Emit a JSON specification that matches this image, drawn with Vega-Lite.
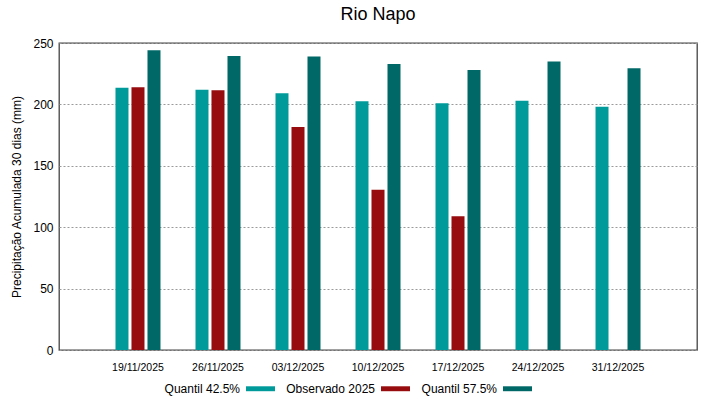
{
  "$schema": "https://vega.github.io/schema/vega-lite/v6.json",
  "width": 638,
  "height": 307,
  "autosize": "none",
  "padding": {"left": 59, "top": 43, "right": 22, "bottom": 49},
  "background": "white",
  "config": {
    "font": "Liberation Sans",
    "view": {"stroke": "#444444", "strokeWidth": 1.3}
  },
  "title": {
    "text": "Rio Napo",
    "fontSize": 18,
    "fontWeight": "normal",
    "font": "Liberation Sans",
    "color": "#000000",
    "anchor": "middle",
    "offset": 13
  },
  "data": {
    "values": [
      {"date": "19/11/2025", "series": "Quantil 42.5%", "value": 213.5},
      {"date": "19/11/2025", "series": "Observado 2025", "value": 214},
      {"date": "19/11/2025", "series": "Quantil 57.5%", "value": 244},
      {"date": "26/11/2025", "series": "Quantil 42.5%", "value": 212},
      {"date": "26/11/2025", "series": "Observado 2025", "value": 211.5},
      {"date": "26/11/2025", "series": "Quantil 57.5%", "value": 239.5},
      {"date": "03/12/2025", "series": "Quantil 42.5%", "value": 209},
      {"date": "03/12/2025", "series": "Observado 2025", "value": 181.5},
      {"date": "03/12/2025", "series": "Quantil 57.5%", "value": 239},
      {"date": "10/12/2025", "series": "Quantil 42.5%", "value": 202.5},
      {"date": "10/12/2025", "series": "Observado 2025", "value": 130.5},
      {"date": "10/12/2025", "series": "Quantil 57.5%", "value": 233},
      {"date": "17/12/2025", "series": "Quantil 42.5%", "value": 201},
      {"date": "17/12/2025", "series": "Observado 2025", "value": 109},
      {"date": "17/12/2025", "series": "Quantil 57.5%", "value": 228},
      {"date": "24/12/2025", "series": "Quantil 42.5%", "value": 203},
      {"date": "24/12/2025", "series": "Quantil 57.5%", "value": 235},
      {"date": "31/12/2025", "series": "Quantil 42.5%", "value": 198},
      {"date": "31/12/2025", "series": "Quantil 57.5%", "value": 229.5}
    ]
  },
  "mark": {"type": "bar"},
  "encoding": {
    "x": {
      "field": "date",
      "type": "ordinal",
      "sort": null,
      "scale": {"paddingInner": 0.4375, "paddingOuter": 0.706},
      "axis": {
        "title": null,
        "labelAngle": 0,
        "labelFontSize": 10.5,
        "labelColor": "#000000",
        "domain": false,
        "ticks": false,
        "labelPadding": 12
      }
    },
    "xOffset": {
      "field": "series",
      "type": "nominal",
      "scale": {
        "domain": ["Quantil 42.5%", "Observado 2025", "Quantil 57.5%"],
        "paddingInner": 0.1875,
        "paddingOuter": 0
      }
    },
    "y": {
      "field": "value",
      "type": "quantitative",
      "scale": {"domain": [0, 250], "nice": false},
      "axis": {
        "title": "Precipitação Acumulada 30 dias (mm)",
        "titleFontSize": 12,
        "titleFontWeight": "normal",
        "titleColor": "#000000",
        "titlePadding": 9,
        "values": [0, 50, 100, 150, 200, 250],
        "labelFontSize": 12,
        "labelColor": "#000000",
        "labelPadding": 6,
        "domain": false,
        "ticks": false,
        "grid": true,
        "gridDash": [2, 2],
        "gridColor": "#9a9a9a",
        "gridWidth": 1
      }
    },
    "color": {
      "field": "series",
      "type": "nominal",
      "scale": {
        "domain": ["Quantil 42.5%", "Observado 2025", "Quantil 57.5%"],
        "range": ["#009a9a", "#960c0f", "#006867"]
      },
      "legend": {
        "title": null,
        "orient": "none",
        "legendX": 187,
        "legendY": 331,
        "direction": "horizontal",
        "labelFontSize": 12,
        "labelColor": "#000000",
        "labelAlign": "right",
        "labelOffset": -35,
        "columnPadding": 11,
        "symbolType": "M-1,-0.17H1V0.17H-1Z",
        "symbolSize": 841,
        "symbolStrokeWidth": 0,
        "symbolOpacity": 1
      }
    }
  }
}
